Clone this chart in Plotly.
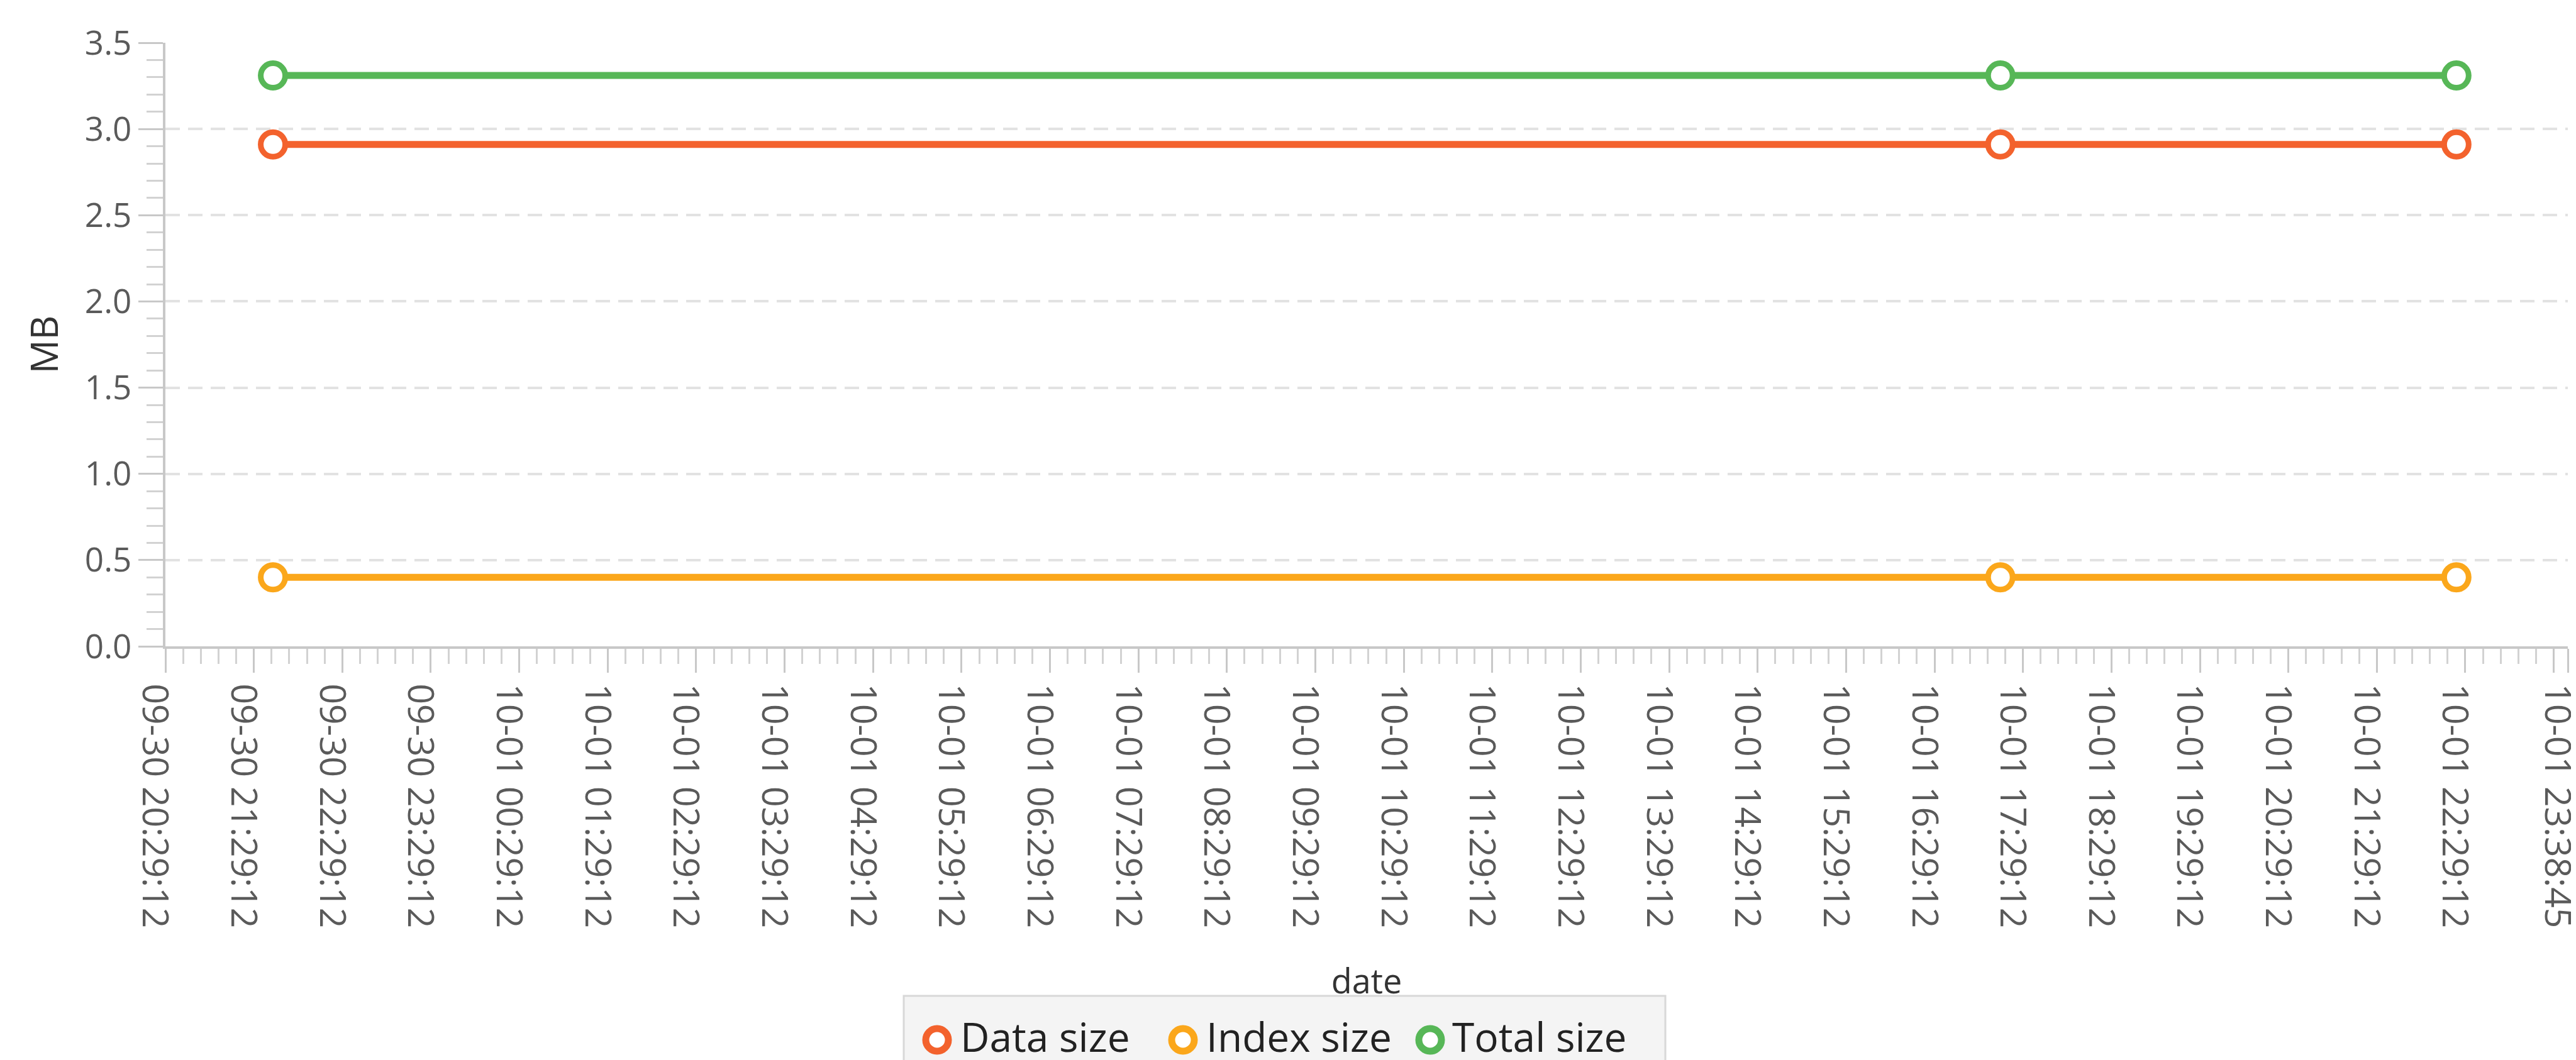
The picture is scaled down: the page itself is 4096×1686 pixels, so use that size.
import plotly.graph_objects as go

# ---------------- data ----------------
dates = ["2023-09-30 21:42:10", "2023-10-01 17:13:50", "2023-10-01 22:23:10"]
data_size = [2.91, 2.91, 2.91]
index_size = [0.40, 0.40, 0.40]
total_size = [3.31, 3.31, 3.31]

series_names = ["Data size", "Index size", "Total size"]
series_colors = ["#f3622d", "#fba71b", "#57b757"]

x_tick_vals = [
    "2023-09-30 20:29:12", "2023-09-30 21:29:12", "2023-09-30 22:29:12", "2023-09-30 23:29:12",
    "2023-10-01 00:29:12", "2023-10-01 01:29:12", "2023-10-01 02:29:12", "2023-10-01 03:29:12",
    "2023-10-01 04:29:12", "2023-10-01 05:29:12", "2023-10-01 06:29:12", "2023-10-01 07:29:12",
    "2023-10-01 08:29:12", "2023-10-01 09:29:12", "2023-10-01 10:29:12", "2023-10-01 11:29:12",
    "2023-10-01 12:29:12", "2023-10-01 13:29:12", "2023-10-01 14:29:12", "2023-10-01 15:29:12",
    "2023-10-01 16:29:12", "2023-10-01 17:29:12", "2023-10-01 18:29:12", "2023-10-01 19:29:12",
    "2023-10-01 20:29:12", "2023-10-01 21:29:12", "2023-10-01 22:29:12", "2023-10-01 23:29:12",
    "2023-10-01 23:38:45",
]
x_tick_text = [
    "09-30 20:29:12", "09-30 21:29:12", "09-30 22:29:12", "09-30 23:29:12",
    "10-01 00:29:12", "10-01 01:29:12", "10-01 02:29:12", "10-01 03:29:12",
    "10-01 04:29:12", "10-01 05:29:12", "10-01 06:29:12", "10-01 07:29:12",
    "10-01 08:29:12", "10-01 09:29:12", "10-01 10:29:12", "10-01 11:29:12",
    "10-01 12:29:12", "10-01 13:29:12", "10-01 14:29:12", "10-01 15:29:12",
    "10-01 16:29:12", "10-01 17:29:12", "10-01 18:29:12", "10-01 19:29:12",
    "10-01 20:29:12", "10-01 21:29:12", "10-01 22:29:12", "",
    "10-01 23:38:45",
]
x_range = ["2023-09-30 20:29:12", "2023-10-01 23:38:45"]
y_range = [0, 3.5]

# ---------------- layout geometry (pixels) ----------------
W, H = 4096, 1686
L, R, T, B = 255, 4075, 60, 1020
PW, PH = R - L, B - T


def px(x):
    return (x - L) / PW


def py(y):
    return (B - y) / PH


FONT = "Open Sans"
TICK_COLOR = "#5a5a5a"
AXIS_COLOR = "#c8c8c8"

fig = go.Figure()

for name, vals, col in zip(series_names, [data_size, index_size, total_size], series_colors):
    fig.add_trace(go.Scatter(
        x=dates, y=vals, name=name, mode="lines+markers",
        line=dict(color=col, width=11),
        marker=dict(symbol="circle", size=39, color="white",
                    line=dict(color=col, width=9)),
        showlegend=False, hoverinfo="x+y+name",
    ))

fig.update_layout(
    width=W, height=H,
    margin=dict(l=L, r=W - R, t=T, b=H - B, autoexpand=False),
    paper_bgcolor="white", plot_bgcolor="white",
    font=dict(family=FONT, color=TICK_COLOR),
    showlegend=False,
)

fig.update_xaxes(
    type="date", range=x_range, automargin=False,
    tickmode="array", tickvals=x_tick_vals, ticktext=x_tick_text,
    tickangle=90, tickfont=dict(family=FONT, size=57, color=TICK_COLOR),
    ticks="outside", ticklen=38, tickwidth=3, tickcolor=AXIS_COLOR,
    ticklabelstandoff=6, ticklabelshift=-17, ticklabeloverflow="allow",
    minor=dict(tickmode="linear", tick0=x_range[0], dtick=720000,
               ticks="outside", ticklen=24, tickwidth=3, tickcolor="#d2d2d2",
               showgrid=False),
    showline=True, linecolor=AXIS_COLOR, linewidth=4,
    showgrid=False, zeroline=False,
    title=dict(text="date", font=dict(family=FONT, size=54, color="#333333"), standoff=68),
)

fig.update_yaxes(
    range=y_range, automargin=False,
    tickmode="linear", tick0=0, dtick=0.5, tickformat=".1f",
    tickfont=dict(family=FONT, size=53, color=TICK_COLOR),
    ticks="outside", ticklen=39, tickwidth=3, tickcolor=AXIS_COLOR,
    minor=dict(tickmode="linear", tick0=0, dtick=0.1,
               ticks="outside", ticklen=26, tickwidth=3, tickcolor="#d2d2d2",
               showgrid=False),
    showline=True, linecolor=AXIS_COLOR, linewidth=4,
    showgrid=True, gridcolor="#e2e2e2", gridwidth=4, griddash="23px,13px",
    zeroline=False,
    title=dict(text="MB", font=dict(family=FONT, size=60, color="#333333"), standoff=24),
)

# ---------------- legend (custom, JavaFX style) ----------------
shapes = [dict(type="rect", xref="paper", yref="paper",
               x0=px(1429), x1=px(2640), y0=py(1576), y1=py(1720),
               fillcolor="#f4f4f4", line=dict(color="#d8d8d8", width=3), layer="above")]
annotations = []
leg_marker_x = [1482, 1873, 2266]
leg_text_x = [1518, 1909, 2300]
leg_y = 1646
for name, col, mx, tx in zip(series_names, series_colors, leg_marker_x, leg_text_x):
    shapes.append(dict(type="circle", xref="paper", yref="paper",
                       xsizemode="pixel", ysizemode="pixel",
                       xanchor=px(mx), yanchor=py(leg_y),
                       x0=-18, x1=18, y0=-18, y1=18,
                       fillcolor="white", line=dict(color=col, width=11), layer="above"))
    annotations.append(dict(xref="paper", yref="paper", x=px(tx), y=py(1640),
                            xanchor="left", yanchor="middle", showarrow=False,
                            borderpad=0,
                            text=name, font=dict(family=FONT, size=64, color="#222222")))

fig.update_layout(shapes=shapes, annotations=annotations)

fig.write_html("out.html")
